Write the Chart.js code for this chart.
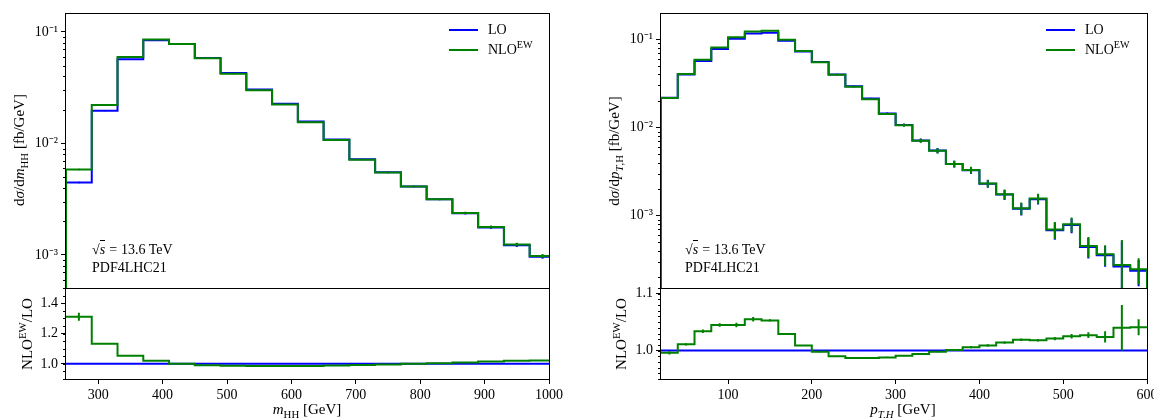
<!DOCTYPE html>
<html><head><meta charset="utf-8">
<script src="https://cdn.jsdelivr.net/npm/chart.js@4.4.1/dist/chart.umd.min.js"></script>
<style>
html,body{margin:0;padding:0;background:#fff;}
#wrap{position:relative;width:1154px;height:418px;overflow:hidden;font-family:"Liberation Serif",serif;color:#000;}
canvas{position:absolute;left:0;top:0;}
.t{position:absolute;white-space:nowrap;font-size:14px;line-height:1;}
.tt{font-size:15px;}
.rot{transform:translate(-50%,-50%) rotate(-90deg);}
.ctr{transform:translate(-50%,-50%);}
.lft{transform:translate(0,-50%);}
sub,sup{font-size:72%;line-height:0;}
.ln{position:absolute;height:2px;width:29px;}
.ov{border-top:1px solid #000;padding-top:1px;font-style:italic;}
.eq{margin:0 4px;}
</style></head><body><div id="wrap">
<canvas id="c1" width="1154" height="418"></canvas>
<canvas id="c2" width="1154" height="418"></canvas>
<canvas id="c3" width="1154" height="418"></canvas>
<canvas id="c4" width="1154" height="418"></canvas>

<div class="t tt rot" style="left:19px;top:150px;">d<i>σ</i>/d<i>m</i><sub>HH</sub> [fb/GeV]</div>
<div class="t tt rot" style="left:27px;top:334px;">NLO<sup>EW</sup>/LO</div>
<div class="t tt ctr" style="left:307px;top:409px;"><i>m</i><sub>HH</sub> [GeV]</div>
<div class="t tt rot" style="left:614px;top:151px;">d<i>σ</i>/d<i>p</i><sub><i>T</i>,H</sub> [fb/GeV]</div>
<div class="t tt rot" style="left:621px;top:334px;">NLO<sup>EW</sup>/LO</div>
<div class="t tt ctr" style="left:903px;top:409px;"><i>p</i><sub><i>T,H</i></sub> [GeV]</div>

<div class="t lft" style="left:92px;top:250px;">√<span class="ov">s</span><span class="eq">=</span>13.6 TeV</div>
<div class="t lft" style="left:92px;top:268px;">PDF4LHC21</div>
<div class="t lft" style="left:685px;top:250px;">√<span class="ov">s</span><span class="eq">=</span>13.6 TeV</div>
<div class="t lft" style="left:685px;top:268px;">PDF4LHC21</div>

<div class="ln" style="left:449px;top:29px;background:#0000ff;"></div>
<div class="t lft" style="left:488px;top:30px;">LO</div>
<div class="ln" style="left:449px;top:49px;background:#008000;"></div>
<div class="t lft" style="left:488px;top:50px;">NLO<sup>EW</sup></div>
<div class="ln" style="left:1046px;top:29px;background:#0000ff;"></div>
<div class="t lft" style="left:1085px;top:30px;">LO</div>
<div class="ln" style="left:1046px;top:49px;background:#008000;"></div>
<div class="t lft" style="left:1085px;top:50px;">NLO<sup>EW</sup></div>
</div>
<script>
// ---------- data: m_HH ----------
const mhhEdges = [250,290,330,370,410,450,490,530,570,610,650,690,730,770,810,850,890,930,970,1010];
const mhhLO  = [4.46e-3,0.0196,0.0568,0.0841,0.0780,0.0585,0.0428,0.0305,0.0227,0.0157,0.01085,7.20e-3,5.50e-3,4.10e-3,3.15e-3,2.36e-3,1.76e-3,1.22e-3,9.60e-4];
const mhhNLO = [5.83e-3,0.0221,0.0597,0.0858,0.0780,0.0580,0.0421,0.0300,0.0223,0.0155,0.01072,7.15e-3,5.47e-3,4.10e-3,3.16e-3,2.38e-3,1.78e-3,1.24e-3,9.76e-4];
const mhhRelErr = [0.017,0.008,0.005,0.005,0.005,0.006,0.007,0.008,0.010,0.012,0.012,0.013,0.014,0.015,0.017,0.023,0.030,0.035,0.040];
const mhhRatioLO  = [1,1,1,1,1,1,1,1,1,1,1,1,1,1,1,1,1,1,1];
const mhhRatioNLO = [1.310,1.133,1.054,1.021,1.000,0.991,0.987,0.985,0.985,0.986,0.989,0.993,0.996,1.000,1.004,1.009,1.015,1.020,1.022];
const mhhRatioErr = [0.026,0.003,0.002,0.001,0.001,0.001,0.001,0.001,0.001,0.001,0.001,0.001,0.001,0.001,0.001,0.002,0.002,0.002,0.002];
// ---------- data: pT,H ----------
const ptEdges = [20,40,60,80,100,120,140,160,180,200,220,240,260,280,300,320,340,360,380,400,420,440,460,480,500,520,540,560,580,600];
const ptLO  = [0.0218,0.0400,0.0569,0.0776,0.1015,0.1166,0.1187,0.0962,0.0729,0.0553,0.0401,0.0294,0.0213,0.01445,0.01072,7.15e-3,5.49e-3,3.87e-3,3.28e-3,2.31e-3,1.74e-3,1.20e-3,1.54e-3,6.85e-4,7.85e-4,4.44e-4,3.58e-4,2.66e-4,2.38e-4];
const ptNLO = [0.0217,0.0404,0.0588,0.0811,0.1060,0.1230,0.1250,0.0990,0.0736,0.0552,0.0397,0.0290,0.0210,0.01428,0.01062,7.11e-3,5.48e-3,3.87e-3,3.30e-3,2.33e-3,1.76e-3,1.22e-3,1.57e-3,6.99e-4,8.04e-4,4.56e-4,3.67e-4,2.77e-4,2.48e-4];
const ptRelErr = [0.010,0.008,0.008,0.008,0.008,0.008,0.008,0.010,0.010,0.012,0.014,0.016,0.020,0.026,0.035,0.050,0.070,0.090,0.090,0.100,0.130,0.160,0.130,0.220,0.190,0.260,0.260,0.920,0.330];
const ptRatioLO  = [1,1,1,1,1,1,1,1,1,1,1,1,1,1,1,1,1,1,1,1,1,1,1,1,1,1,1,1,1];
const ptRatioNLO = [0.996,1.011,1.034,1.045,1.045,1.055,1.053,1.029,1.009,0.998,0.990,0.987,0.987,0.988,0.991,0.994,0.998,1.001,1.006,1.009,1.014,1.019,1.018,1.021,1.025,1.027,1.024,1.040,1.041];
const ptRatioErr = [0.003,0.002,0.003,0.003,0.004,0.004,0.002,0.001,0.001,0.001,0.001,0.001,0.001,0.001,0.001,0.001,0.001,0.001,0.002,0.002,0.002,0.002,0.002,0.003,0.004,0.005,0.010,0.040,0.014];
// ---------- ticks ----------
const logTickValues = [1e-3,1e-2,1e-1];
const logTickLabels = ['10\u207B\u00B3','10\u207B\u00B2','10\u207B\u00B9'];
const mhhXTicks = [300,400,500,600,700,800,900,1000];
const ptXTicks  = [100,200,300,400,500,600];
const mhhRatioTicks = [1.0,1.2,1.4];
const ptRatioTicks  = [1.0,1.1];

const BLUE = '#0000ff', GREEN = '#008000';
const FONT = {family:'"Liberation Serif", serif', size:14};

function histPoints(edges, vals, drop){
  const p = [];
  if (drop !== undefined) p.push({x:edges[0], y:drop});
  for (let i=0;i<vals.length;i++) p.push({x:edges[i], y:vals[i]});
  p.push({x:edges[edges.length-1], y:vals[vals.length-1]});
  if (drop !== undefined) p.push({x:edges[edges.length-1], y:drop});
  return p;
}
function ds(label, edges, vals, color, order, drop, err){
  return {label, data:histPoints(edges, vals, drop), borderColor:color, backgroundColor:color,
    borderWidth:2, pointRadius:0, stepped:true, fill:false, order,
    borderJoinStyle:'miter', clip:{left:1,right:1,top:0,bottom:0},
    errBars: err ? {edges, vals, err} : null};
}
function logMinor(min,max){
  const out=[];
  for (let e=-5;e<=0;e++) for (let m=2;m<=9;m++){const v=m*Math.pow(10,e); if(v>=min&&v<=max) out.push(v);}
  return out;
}
function linMinor(min,max,step){
  const out=[]; const n=Math.round((max-min)/step);
  for(let i=0;i<=n;i++) out.push(+(min+i*step).toFixed(4));
  return out;
}

const framePlugin = {id:'frame', afterDraw(chart){
  const a=chart.chartArea, c=chart.ctx; c.save(); c.strokeStyle='#000'; c.lineWidth=1;
  c.strokeRect(Math.round(a.left)-0.5, Math.round(a.top)+0.5, Math.round(a.right-a.left)+1, Math.round(a.bottom-a.top));
  c.restore();}};
const minorPlugin = {id:'minorTicks', afterDraw(chart, args, opts){
  if(!opts || !opts.values) return;
  const y=chart.scales.y, a=chart.chartArea, c=chart.ctx; c.save(); c.strokeStyle='#000'; c.lineWidth=1;
  c.beginPath();
  opts.values.forEach(v=>{const py=Math.round(y.getPixelForValue(v))+0.5; if(py<a.top-0.5||py>a.bottom+0.5) return;
    c.moveTo(a.left,py); c.lineTo(a.left-3,py);});
  c.stroke(); c.restore();}};
const errPlugin = {id:'errBars', afterDatasetDraw(chart, args){
  const d=chart.data.datasets[args.index]; if(!d.errBars) return;
  const {edges, vals, err} = d.errBars; const x=chart.scales.x, y=chart.scales.y, a=chart.chartArea, c=chart.ctx;
  c.save(); c.beginPath(); c.rect(a.left,a.top,a.right-a.left,a.bottom-a.top); c.clip();
  c.strokeStyle=d.borderColor; c.lineWidth=2; c.beginPath();
  for(let i=0;i<vals.length;i++){
    const px=x.getPixelForValue((edges[i]+edges[i+1])/2);
    const lo=vals[i]-err[i], hi=vals[i]+err[i];
    const p1 = lo>0 ? y.getPixelForValue(lo) : a.bottom+5;
    const p2 = y.getPixelForValue(hi);
    c.moveTo(px,p1); c.lineTo(px,p2);
  }
  c.stroke(); c.restore();}};

function absErr(vals, rel){ return vals.map((v,i)=>v*rel[i]); }

function makeChart(id, cfg){
  const yScale = {
    type: cfg.yType, min: cfg.yMin, max: cfg.yMax,
    afterBuildTicks: s => { s.ticks = cfg.yTicks.map(v=>({value:v})); },
    afterFit: s => { s.width = 60; s.paddingTop = 0; s.paddingBottom = 0; },
    ticks: {font:FONT, color:'#000', padding:3, autoSkip:false, maxRotation:0,
      callback: (v, i) => cfg.yLabels[i]},
    grid: {drawOnChartArea:false, tickLength:5, tickColor:'#000', tickWidth:1},
    border: {display:false}
  };
  const xScale = {
    type:'linear', min: cfg.xMin, max: cfg.xMax, display: cfg.xShow,
    afterBuildTicks: s => { s.ticks = cfg.xTicks.map(v=>({value:v})); },
    afterFit: s => { s.height = cfg.xShow ? 20 : 0; s.paddingLeft = 0; s.paddingRight = 0; },
    ticks: {font:FONT, color:'#000', padding:3, autoSkip:false, maxRotation:0, minRotation:0,
      callback: (v) => String(v)},
    grid: {drawOnChartArea:false, tickLength:5, tickColor:'#000', tickWidth:1},
    border: {display:false}
  };
  return new Chart(document.getElementById(id), {
    type:'line',
    data:{datasets: cfg.datasets},
    options:{
      responsive:false, animation:false, devicePixelRatio:1, events:[],
      layout:{padding: cfg.padding},
      scales:{x:xScale, y:yScale},
      plugins:{legend:{display:false}, tooltip:{enabled:false}, minorTicks:{values: cfg.minor}}
    },
    plugins:[framePlugin, minorPlugin, errPlugin]
  });
}

const ulMin = 5.04e-4, ulMax = 0.148;
makeChart('c1', {
  yType:'logarithmic', yMin:ulMin, yMax:ulMax, yTicks:logTickValues, yLabels:logTickLabels,
  xMin:250, xMax:1000, xShow:false, xTicks:mhhXTicks,
  padding:{left:6, top:13, right:605, bottom:130},
  minor: logMinor(ulMin, ulMax),
  datasets:[ ds('LO', mhhEdges, mhhLO, BLUE, 1, 1e-7, absErr(mhhLO, mhhRelErr)),
             ds('NLO EW', mhhEdges, mhhNLO, GREEN, 0, 1e-7, absErr(mhhNLO, mhhRelErr)) ]
});
makeChart('c2', {
  yType:'linear', yMin:0.9, yMax:1.5, yTicks:mhhRatioTicks, yLabels:mhhRatioTicks.map(v=>v.toFixed(1)),
  xMin:250, xMax:1000, xShow:true, xTicks:mhhXTicks,
  padding:{left:6, top:288, right:605, bottom:19},
  minor: linMinor(0.9, 1.5, 0.05),
  datasets:[ ds('LO', mhhEdges, mhhRatioLO, BLUE, 1),
             ds('NLO EW', mhhEdges, mhhRatioNLO, GREEN, 0, undefined, mhhRatioErr) ]
});
const urMin = 1.52e-4, urMax = 0.199;
makeChart('c3', {
  yType:'logarithmic', yMin:urMin, yMax:urMax, yTicks:logTickValues, yLabels:logTickLabels,
  xMin:20, xMax:600, xShow:false, xTicks:ptXTicks,
  padding:{left:601, top:13, right:7, bottom:130},
  minor: logMinor(urMin, urMax),
  datasets:[ ds('LO', ptEdges, ptLO, BLUE, 1, 1e-7, absErr(ptLO, ptRelErr)),
             ds('NLO EW', ptEdges, ptNLO, GREEN, 0, 1e-7, absErr(ptNLO, ptRelErr)) ]
});
makeChart('c4', {
  yType:'linear', yMin:0.95, yMax:1.11, yTicks:ptRatioTicks, yLabels:ptRatioTicks.map(v=>v.toFixed(1)),
  xMin:20, xMax:600, xShow:true, xTicks:ptXTicks,
  padding:{left:601, top:288, right:7, bottom:19},
  minor: linMinor(0.95, 1.11, 0.01),
  datasets:[ ds('LO', ptEdges, ptRatioLO, BLUE, 1),
             ds('NLO EW', ptEdges, ptRatioNLO, GREEN, 0, undefined, ptRatioErr) ]
});
</script>
</body></html>
